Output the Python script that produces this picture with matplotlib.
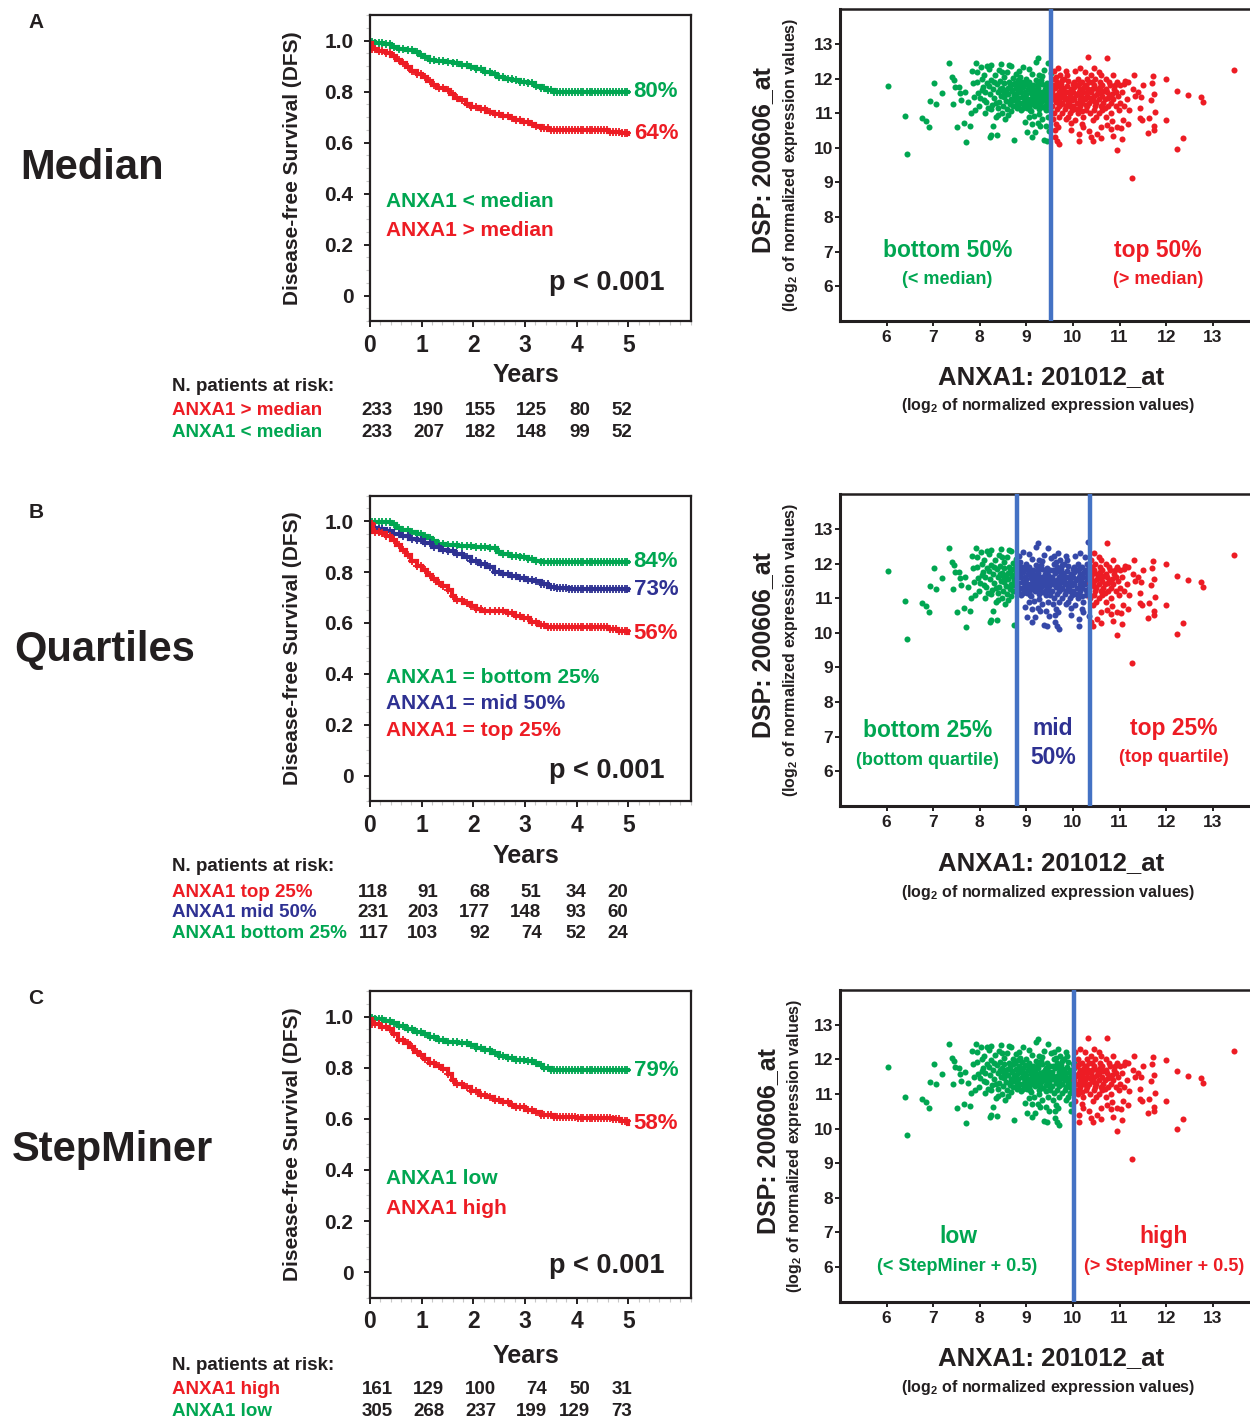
import numpy as np
import matplotlib.pyplot as plt
from matplotlib.ticker import MultipleLocator
from matplotlib.transforms import blended_transform_factory

plt.rcParams['font.family'] = ['Liberation Sans', 'DejaVu Sans']
plt.rcParams['font.weight'] = 'bold'
plt.rcParams['mathtext.fontset'] = 'custom'
plt.rcParams['mathtext.bf'] = 'Liberation Sans:bold'
plt.rcParams['mathtext.rm'] = 'Liberation Sans:bold'

GREEN = '#00a651'
RED = '#ed1c24'
BLUE = '#2e3192'
DOT_BLUE = '#3548a8'
LINE_BLUE = '#4472c4'
DARK = '#231f20'

W, H = 1250, 1420

# ---- Kaplan-Meier curves (years, DFS) ----
a_low_t = [0, 0.1, 0.25, 0.4, 0.55, 0.7, 0.85, 0.95, 1.05, 1.15, 1.25, 1.45, 1.6, 1.75, 1.9,
           2.05, 2.2, 2.35, 2.45, 2.6, 2.75, 2.9, 3.05, 3.2, 3.3, 3.4, 3.55, 5.0]
a_low_s = [0.995, 0.99, 0.985, 0.975, 0.968, 0.962, 0.955, 0.945, 0.935, 0.925, 0.918, 0.915,
           0.91, 0.905, 0.895, 0.888, 0.878, 0.868, 0.857, 0.85, 0.845, 0.838, 0.832, 0.822,
           0.812, 0.805, 0.80, 0.80]
a_high_t = [0, 0.03, 0.15, 0.3, 0.4, 0.5, 0.6, 0.7, 0.8, 0.9, 1.0, 1.1, 1.2, 1.3, 1.45, 1.55,
            1.62, 1.72, 1.85, 1.95, 2.1, 2.25, 2.4, 2.55, 2.7, 2.8, 2.95, 3.1, 3.2, 3.3, 3.45,
            4.0, 4.6, 4.85, 5.0]
a_high_s = [0.99, 0.965, 0.958, 0.95, 0.94, 0.925, 0.91, 0.895, 0.882, 0.868, 0.855, 0.84,
            0.826, 0.815, 0.805, 0.79, 0.775, 0.765, 0.75, 0.74, 0.73, 0.72, 0.71, 0.703, 0.695,
            0.688, 0.68, 0.672, 0.663, 0.656, 0.65, 0.648, 0.643, 0.638, 0.635]

b_bottom_t = [0, 0.4, 0.5, 0.6, 0.75, 0.9, 1.0, 1.1, 1.2, 1.3, 1.45, 1.7, 2.0, 2.3, 2.45, 2.55,
              2.7, 2.9, 3.05, 3.2, 3.3, 5.0]
b_bottom_s = [0.997, 0.99, 0.975, 0.965, 0.958, 0.948, 0.94, 0.932, 0.922, 0.912, 0.906, 0.903,
              0.90, 0.895, 0.88, 0.872, 0.864, 0.858, 0.85, 0.843, 0.84, 0.84]
b_mid_t = [0, 0.15, 0.3, 0.45, 0.6, 0.75, 0.9, 1.05, 1.2, 1.35, 1.5, 1.65, 1.8, 1.95, 2.1,
           2.25, 2.4, 2.55, 2.7, 2.85, 3.0, 3.15, 3.3, 3.45, 3.6, 3.85, 5.0]
b_mid_s = [0.975, 0.97, 0.96, 0.95, 0.94, 0.93, 0.924, 0.915, 0.90, 0.888, 0.882, 0.872,
           0.858, 0.845, 0.832, 0.818, 0.80, 0.792, 0.785, 0.776, 0.77, 0.765, 0.752, 0.742,
           0.737, 0.734, 0.731]
b_top_t = [0, 0.05, 0.2, 0.3, 0.4, 0.5, 0.6, 0.7, 0.8, 0.9, 1.0, 1.1, 1.2, 1.3, 1.4, 1.5,
           1.58, 1.65, 1.8, 1.95, 2.05, 2.15, 2.65, 2.8, 2.95, 3.1, 3.25, 3.4, 4.6, 4.8, 5.0]
b_top_s = [0.99, 0.958, 0.952, 0.94, 0.925, 0.905, 0.885, 0.865, 0.845, 0.825, 0.808, 0.79,
           0.772, 0.757, 0.745, 0.73, 0.705, 0.69, 0.68, 0.667, 0.655, 0.645, 0.64, 0.628,
           0.618, 0.603, 0.59, 0.582, 0.578, 0.569, 0.56]

c_low_t = [0, 0.1, 0.25, 0.4, 0.55, 0.7, 0.85, 1.0, 1.15, 1.3, 1.45, 1.7, 1.9, 2.05, 2.2,
           2.35, 2.5, 2.65, 2.8, 3.0, 3.15, 3.25, 3.35, 3.5, 5.0]
c_low_s = [0.995, 0.99, 0.983, 0.975, 0.965, 0.952, 0.94, 0.93, 0.92, 0.91, 0.902, 0.898,
           0.888, 0.878, 0.868, 0.858, 0.846, 0.838, 0.83, 0.826, 0.82, 0.81, 0.80, 0.792, 0.79]
c_high_t = [0, 0.03, 0.2, 0.35, 0.45, 0.55, 0.65, 0.75, 0.85, 0.95, 1.05, 1.15, 1.25, 1.4,
            1.5, 1.58, 1.65, 1.8, 1.95, 2.1, 2.25, 2.4, 2.55, 2.7, 2.8, 3.0, 3.15, 3.3, 3.55,
            4.0, 4.7, 4.85, 5.0]
c_high_s = [0.99, 0.97, 0.96, 0.95, 0.93, 0.91, 0.895, 0.88, 0.863, 0.85, 0.835, 0.82, 0.805,
            0.795, 0.775, 0.75, 0.735, 0.725, 0.71, 0.695, 0.685, 0.675, 0.667, 0.655, 0.645,
            0.635, 0.625, 0.615, 0.607, 0.602, 0.598, 0.59, 0.581]

censor_t = [0.04, 0.1, 0.17, 0.24, 0.31, 0.39, 0.47, 0.56, 0.64, 0.73, 0.82, 0.9, 0.98, 1.07,
            1.16, 1.24, 1.33, 1.42, 1.51, 1.6, 1.69, 1.78, 1.87, 1.96, 2.05, 2.14, 2.23, 2.32,
            2.41, 2.5, 2.58, 2.66, 2.74, 2.82, 2.9, 2.98, 3.06, 3.14, 3.22, 3.3, 3.37, 3.44,
            3.5, 3.56, 3.62, 3.68, 3.73, 3.79, 3.85, 3.9, 3.96, 4.02, 4.08, 4.13, 4.19, 4.25,
            4.3, 4.36, 4.42, 4.47, 4.53, 4.59, 4.64, 4.7, 4.76, 4.81, 4.87, 4.93, 4.98]

# ---- numbers at risk (years 0..5) ----
risk_a_high = [233, 190, 155, 125, 80, 52]
risk_a_low = [233, 207, 182, 148, 99, 52]
risk_b_top = [118, 91, 68, 51, 34, 20]
risk_b_mid = [231, 203, 177, 148, 93, 60]
risk_b_bottom = [117, 103, 92, 74, 52, 24]
risk_c_high = [161, 129, 100, 74, 50, 31]
risk_c_low = [305, 268, 237, 199, 129, 73]

# ---- ANXA1 vs DSP expression, one point per patient (log2) ----
expr_pairs = [
    # sparse low end
    (6.04, 11.78), (6.40, 10.91), (6.43, 9.81), (6.76, 10.86), (6.85, 10.78), (6.92, 10.60),
    (6.94, 11.35), (7.02, 11.86), (7.07, 11.28), (7.19, 11.57), (7.33, 12.44), (7.40, 12.05),
    (7.44, 11.96), (7.42, 11.28), (7.47, 11.77), (7.50, 10.59), (7.55, 11.75), (7.58, 11.57),
    (7.60, 11.38), (7.67, 10.72), (7.70, 10.16), (7.69, 11.62), (7.74, 11.32), (7.79, 10.64),
    (7.81, 11.02), (7.83, 12.23), (7.85, 11.86), (7.88, 11.48), (7.92, 12.44), (7.95, 11.91),
    (7.97, 11.57), (7.99, 11.20), (7.90, 11.10), (7.94, 12.20),
    # 8.0 - 8.5
    (8.02, 12.34), (8.04, 11.66), (8.07, 11.76), (8.08, 11.38), (8.10, 12.10), (8.12, 11.02),
    (8.14, 11.33), (8.15, 11.86), (8.17, 11.14), (8.19, 12.28), (8.21, 10.32), (8.22, 11.55),
    (8.24, 11.97), (8.25, 10.38), (8.25, 12.39), (8.27, 11.25), (8.28, 10.63), (8.29, 11.70),
    (8.31, 11.44), (8.33, 12.11), (8.35, 10.89), (8.36, 10.36), (8.37, 11.83), (8.38, 11.14),
    (8.39, 11.60), (8.41, 12.25), (8.42, 11.31), (8.44, 11.92), (8.45, 11.50), (8.46, 12.41),
    (8.47, 11.01), (8.48, 11.74), (8.49, 11.22), (8.50, 11.63), (8.00, 11.45), (8.05, 12.00),
    (8.11, 11.60), (8.16, 12.36), (8.20, 11.78), (8.23, 11.12), (8.30, 11.90), (8.34, 11.30),
    (8.40, 10.95), (8.43, 11.70), (8.47, 12.18),
    # 8.5 - 9.0
    (8.51, 11.47), (8.52, 11.86), (8.53, 12.05), (8.55, 10.83), (8.56, 11.35), (8.57, 11.68),
    (8.58, 12.19), (8.59, 11.12), (8.60, 10.94), (8.61, 11.55), (8.62, 11.90), (8.63, 12.39),
    (8.64, 11.27), (8.65, 11.78), (8.66, 11.42), (8.67, 12.36), (8.68, 11.06), (8.69, 11.63),
    (8.70, 11.67), (8.71, 12.02), (8.72, 11.20), (8.73, 11.52), (8.74, 10.24), (8.75, 11.88),
    (8.76, 11.38), (8.77, 11.73), (8.78, 12.14), (8.79, 11.15), (8.80, 11.58), (8.81, 11.18),
    (8.82, 11.97), (8.83, 11.44), (8.84, 11.80), (8.85, 12.22), (8.86, 11.30), (8.87, 12.05),
    (8.88, 11.62), (8.89, 11.09), (8.90, 11.91), (8.91, 11.48), (8.92, 12.34), (8.93, 11.75),
    (8.94, 11.22), (8.95, 11.47), (8.96, 10.75), (8.97, 11.84), (8.98, 11.37), (8.99, 12.00),
    (8.95, 11.32), (8.99, 11.45), (8.54, 11.58), (8.60, 11.72), (8.68, 11.34), (8.72, 11.85),
    (8.80, 11.30), (8.86, 11.70), (8.92, 11.15), (8.97, 11.60),
    # 9.0 - median
    (9.00, 11.55), (9.01, 11.14), (9.02, 10.46), (9.03, 11.69), (9.04, 11.30), (9.05, 12.28),
    (9.06, 11.90), (9.07, 11.42), (9.08, 11.76), (9.09, 11.05), (9.10, 11.58), (9.11, 10.32),
    (9.12, 12.13), (9.13, 10.70), (9.13, 11.35), (9.14, 11.82), (9.15, 11.48), (9.16, 10.92),
    (9.17, 11.38), (9.18, 11.65), (9.19, 11.22), (9.20, 12.49), (9.21, 11.96), (9.22, 11.52),
    (9.23, 11.29), (9.24, 12.58), (9.25, 11.74), (9.26, 11.12), (9.27, 10.99), (9.28, 11.44),
    (9.29, 11.86), (9.30, 11.60), (9.31, 11.96), (9.32, 11.33), (9.33, 12.06), (9.34, 10.82),
    (9.35, 11.50), (9.36, 11.18), (9.37, 10.22), (9.38, 12.25), (9.39, 11.70), (9.40, 11.40),
    (9.41, 10.62), (9.42, 11.57), (9.43, 11.08), (9.44, 11.88), (9.45, 11.27), (9.46, 12.44),
    (9.47, 11.66), (9.48, 10.50), (9.49, 11.46), (9.50, 11.80), (9.51, 11.20), (9.52, 12.17),
    (9.44, 10.20), (9.30, 10.62), (9.18, 10.45), (9.05, 10.88), (9.24, 10.72), (9.46, 10.90),
    (9.02, 11.36), (9.08, 11.25), (9.12, 11.44), (9.16, 11.31), (9.20, 11.42), (9.25, 11.36),
    (9.29, 11.24), (9.33, 11.47), (9.37, 11.39), (9.41, 11.25), (9.45, 11.52), (9.49, 11.34),
    (9.10, 11.62), (9.19, 11.55), (9.27, 11.55), (9.36, 11.62), (9.43, 11.75), (9.51, 11.58),
    (9.03, 11.82), (9.07, 11.10), (9.15, 11.70), (9.22, 11.80), (9.28, 12.10), (9.34, 11.85),
    (9.39, 11.52), (9.47, 11.40), (9.50, 11.10),
    # median - 10.0
    (9.55, 11.62), (9.56, 11.22), (9.57, 11.80), (9.58, 11.42), (9.58, 10.82), (9.59, 12.00),
    (9.60, 12.21), (9.60, 11.02), (9.61, 10.52), (9.62, 11.74), (9.62, 10.30), (9.63, 11.32),
    (9.64, 10.68), (9.65, 11.89), (9.65, 11.12), (9.66, 11.52), (9.66, 10.20), (9.67, 11.38),
    (9.68, 12.30), (9.68, 10.60), (9.69, 11.62), (9.70, 11.22), (9.70, 10.90), (9.71, 10.10),
    (9.72, 12.10), (9.73, 11.44), (9.74, 11.70), (9.75, 11.83), (9.76, 11.02), (9.77, 11.30),
    (9.78, 11.72), (9.79, 11.55), (9.80, 12.00), (9.80, 11.50), (9.82, 11.12), (9.83, 11.40),
    (9.84, 11.20), (9.85, 11.61), (9.85, 10.82), (9.86, 12.22), (9.87, 11.78), (9.88, 11.40),
    (9.89, 11.30), (9.90, 11.92), (9.90, 10.90), (9.92, 11.32), (9.93, 11.50), (9.94, 11.02),
    (9.95, 10.72), (9.95, 10.51), (9.96, 11.70), (9.97, 11.45), (9.98, 11.10), (9.99, 11.85),
    (9.57, 11.52), (9.61, 11.42), (9.64, 12.05), (9.67, 11.78), (9.70, 11.50), (9.74, 11.28),
    (9.77, 11.95), (9.81, 11.65), (9.84, 11.45), (9.88, 12.10), (9.91, 11.62), (9.94, 11.20),
    (9.98, 11.38),
    # 10.0 - 10.5
    (10.00, 11.60), (10.01, 11.22), (10.02, 11.90), (10.03, 11.41), (10.05, 12.22), (10.05, 10.80),
    (10.06, 11.52), (10.08, 11.80), (10.08, 11.30), (10.10, 12.00), (10.10, 11.00), (10.12, 11.60),
    (10.12, 11.10), (10.13, 10.40), (10.13, 10.20), (10.14, 11.40), (10.15, 12.30), (10.15, 11.70),
    (10.16, 11.20), (10.18, 11.50), (10.20, 11.90), (10.20, 11.30), (10.20, 10.70), (10.21, 10.60),
    (10.22, 11.60), (10.22, 10.90), (10.24, 11.45), (10.25, 12.20), (10.26, 11.40), (10.27, 11.80),
    (10.28, 11.10), (10.30, 12.00), (10.30, 11.50), (10.30, 11.20), (10.33, 11.70), (10.33, 12.61),
    (10.35, 11.30), (10.35, 10.50), (10.36, 11.00), (10.38, 12.10), (10.38, 11.60), (10.38, 10.30),
    (10.40, 11.90), (10.40, 11.40), (10.42, 10.80), (10.42, 10.20), (10.44, 11.10), (10.45, 12.30),
    (10.45, 11.80), (10.45, 11.50), (10.47, 11.20), (10.48, 12.00), (10.02, 11.75), (10.06, 11.12),
    (10.09, 11.55), (10.13, 11.85), (10.17, 11.35), (10.19, 11.05), (10.23, 11.75), (10.27, 11.25),
    (10.31, 11.62), (10.34, 11.90), (10.37, 11.45), (10.41, 11.70), (10.46, 11.35),
    # 10.5 - 11.0
    (10.50, 11.30), (10.50, 10.90), (10.52, 11.70), (10.52, 10.40), (10.55, 12.20), (10.55, 11.40),
    (10.55, 11.00), (10.56, 11.60), (10.58, 11.90), (10.60, 12.10), (10.60, 11.20), (10.60, 10.60),
    (10.60, 10.28), (10.62, 11.80), (10.62, 11.50), (10.63, 11.10), (10.65, 11.30), (10.68, 11.40),
    (10.70, 12.00), (10.70, 11.70), (10.70, 10.90), (10.73, 10.67), (10.74, 12.60), (10.74, 11.60),
    (10.75, 11.20), (10.78, 11.90), (10.78, 11.50), (10.80, 11.80), (10.81, 10.55), (10.82, 11.30),
    (10.82, 11.00), (10.83, 10.77), (10.85, 12.10), (10.85, 11.40), (10.86, 10.33), (10.87, 11.70),
    (10.92, 11.60), (10.92, 11.20), (10.94, 9.93), (10.95, 11.90), (10.95, 10.60), (10.97, 11.50),
    (10.51, 11.55), (10.57, 11.75), (10.64, 11.65), (10.69, 11.15), (10.76, 11.45), (10.84, 11.55),
    (10.90, 11.80), (10.99, 11.10),
    # high end
    (11.00, 11.80), (11.00, 11.30), (11.03, 10.57), (11.05, 11.60), (11.06, 10.26), (11.08, 10.80),
    (11.09, 11.84), (11.10, 11.20), (11.12, 11.93), (11.15, 11.40), (11.18, 11.90), (11.19, 10.68),
    (11.21, 11.09), (11.26, 9.12), (11.29, 11.69), (11.30, 12.10), (11.32, 11.49), (11.40, 11.60),
    (11.43, 11.14), (11.43, 10.86), (11.46, 11.48), (11.49, 10.79), (11.50, 11.80), (11.60, 10.44),
    (11.64, 10.85), (11.68, 11.38), (11.69, 11.86), (11.72, 12.06), (11.73, 11.54), (11.73, 10.62),
    (11.74, 10.51), (11.77, 11.04), (11.99, 10.79), (12.00, 11.99), (12.23, 9.98), (12.24, 11.65),
    (12.36, 10.28), (12.46, 11.53), (12.74, 11.47), (12.79, 11.32), (13.46, 12.25),
]
anxa1 = np.array([p[0] for p in expr_pairs])
dsp = np.array([p[1] for p in expr_pairs])

median_cut = 9.53
quartile_cuts = [8.79, 10.36]
stepminer_cut = 10.03


fig = plt.figure(figsize=(W / 100, H / 100), dpi=100)


def add_ax(left, top, right, bottom):
    return fig.add_axes([left / W, 1 - bottom / H, (right - left) / W, (bottom - top) / H])


def ftext(x, y, s, **kw):
    kw.setdefault('ha', 'center')
    kw.setdefault('va', 'center')
    kw.setdefault('color', DARK)
    return fig.text(x / W, 1 - y / H, s, **kw)


def step_at(t, s, x):
    idx = np.searchsorted(np.asarray(t), np.asarray(x), side='right') - 1
    return np.asarray(s)[idx]


def km_panel(top, bottom, curves, legend, p_y, risk_rows, risk_cols, risk_y, years_y):
    ax = add_ax(370, top, 690.5, bottom)
    for t, s, col, pct in curves:
        ax.plot(t, s, drawstyle='steps-post', color=col, lw=3.0, solid_joinstyle='miter')
        ax.plot(censor_t, step_at(t, s, censor_t), '+', color=col, ms=5.5, mew=1.3)
        ax.text(5.1, s[-1], pct, color=col, fontsize=16, ha='left', va='center')
    for txt, col, y in legend:
        ax.text(0.3, y, txt, color=col, fontsize=15, ha='left', va='center')
    ax.text(5.7, p_y, 'p < 0.001', color=DARK, fontsize=19.5, ha='right', va='center')

    ax.set_xlim(0, 6.2)
    ax.set_ylim(-0.1, 1.1)
    ax.set_xticks(range(6))
    ax.set_yticks([0, 0.2, 0.4, 0.6, 0.8, 1.0])
    ax.set_yticklabels(['0', '0.2', '0.4', '0.6', '0.8', '1.0'])
    ax.xaxis.set_minor_locator(MultipleLocator(0.2))
    ax.yaxis.set_minor_locator(MultipleLocator(0.05))
    ax.tick_params(which='major', direction='out', length=4, width=1.4, colors=DARK)
    ax.tick_params(axis='x', which='major', pad=5, labelsize=16.5)
    ax.tick_params(axis='y', which='major', pad=8, labelsize=15)
    ax.tick_params(which='minor', direction='out', length=3, width=0.8, color='#c8c8c8')
    for sp in ax.spines.values():
        sp.set_linewidth(1.6)
        sp.set_color(DARK)

    mid = (top + bottom) / 2
    ftext(293, mid, 'Disease-free Survival (DFS)', rotation=90, fontsize=15)
    ftext(526, years_y, 'Years', fontsize=18)

    trans = blended_transform_factory(ax.transData, fig.transFigure)
    ftext(172, risk_y[0], 'N. patients at risk:', ha='left', fontsize=13.5)
    for (label, col, counts), y in zip(risk_rows, risk_y[1:]):
        ftext(172, y, label, ha='left', color=col, fontsize=13.5)
        for xc, n in zip(risk_cols, counts):
            ax.text(xc, 1 - y / H, str(n), transform=trans, ha='right', va='center',
                    fontsize=13.5, color=DARK, clip_on=False)
    return ax


def scatter_panel(top, bottom, groups, cuts, labels, xlab_y, ylab_x):
    ax = add_ax(840, top, 840 + 9 * 46.6, bottom)
    for mask, col in groups:
        ax.scatter(anxa1[mask], dsp[mask], s=19, color=col, linewidths=0, zorder=2)
    for c in cuts:
        ax.axvline(c, color=LINE_BLUE, lw=3.2, zorder=3)
    for x, y, txt, col, size in labels:
        ax.text(x, y, txt, color=col, fontsize=size, ha='center', va='center')
    ax.set_xlim(5, 14)
    ax.set_ylim(5, 14)
    ax.set_xticks(range(6, 14))
    ax.set_yticks(range(6, 14))
    ax.tick_params(direction='out', length=3.5, width=1.4, colors=DARK, labelsize=12.5)
    ax.tick_params(axis='y', pad=1.5)
    ax.tick_params(axis='x', pad=3)
    for name, sp in ax.spines.items():
        sp.set_color(DARK)
        sp.set_linewidth(2.2 if name in ('left', 'bottom') else 1.8)

    mid = (top + bottom) / 2
    ftext(ylab_x, mid - 5, 'DSP: 200606_at', rotation=90, fontsize=18)
    ftext(ylab_x + 27, mid, r'(log$_\mathbf{2}$ of normalized expression values)',
          rotation=90, fontsize=11.5)
    ftext(1051, xlab_y, 'ANXA1: 201012_at', fontsize=18.5)
    ftext(1048, xlab_y + 29, r'(log$_\mathbf{2}$ of normalized expression values)',
          fontsize=11.5)
    return ax


cols_ac = [0.44, 1.44, 2.44, 3.42, 4.26, 5.07]
cols_b = [0.36, 1.32, 2.33, 3.32, 4.18, 4.99]

# ---------- A: median ----------
ftext(36, 23, 'A', fontsize=15)
ftext(92, 168, 'Median', fontsize=30)
km_panel(15, 321,
         [(a_low_t, a_low_s, GREEN, '80%'), (a_high_t, a_high_s, RED, '64%')],
         [('ANXA1 < median', GREEN, 0.368), ('ANXA1 > median', RED, 0.255)],
         0.05,
         [('ANXA1 > median', RED, risk_a_high), ('ANXA1 < median', GREEN, risk_a_low)],
         cols_ac, [386, 410, 433], 375)
scatter_panel(9.3, 321,
              [(anxa1 < median_cut, GREEN), (anxa1 >= median_cut, RED)],
              [median_cut],
              [(7.31, 7.03, 'bottom 50%', GREEN, 16.5), (7.31, 6.19, '(< median)', GREEN, 13),
               (11.82, 7.03, 'top 50%', RED, 16.5), (11.82, 6.19, '(> median)', RED, 13)],
              376.7, 763)

# ---------- B: quartiles ----------
ftext(36, 512, 'B', fontsize=15)
ftext(105, 650, 'Quartiles', fontsize=30)
km_panel(495.7, 801,
         [(b_bottom_t, b_bottom_s, GREEN, '84%'), (b_mid_t, b_mid_s, BLUE, '73%'),
          (b_top_t, b_top_s, RED, '56%')],
         [('ANXA1 = bottom 25%', GREEN, 0.387), ('ANXA1 = mid 50%', BLUE, 0.283),
          ('ANXA1 = top 25%', RED, 0.177)],
         0.017,
         [('ANXA1 top 25%', RED, risk_b_top), ('ANXA1 mid 50%', BLUE, risk_b_mid),
          ('ANXA1 bottom 25%', GREEN, risk_b_bottom)],
         cols_b, [866.7, 892, 912.7, 933.3], 856)
scatter_panel(494.3, 806,
              [(anxa1 < quartile_cuts[0], GREEN),
               ((anxa1 >= quartile_cuts[0]) & (anxa1 < quartile_cuts[1]), DOT_BLUE),
               (anxa1 >= quartile_cuts[1], RED)],
              quartile_cuts,
              [(6.88, 7.18, 'bottom 25%', GREEN, 16.5),
               (6.88, 6.31, '(bottom quartile)', GREEN, 13),
               (9.57, 7.23, 'mid', BLUE, 16.5), (9.57, 6.41, '50%', BLUE, 16.5),
               (12.16, 7.23, 'top 25%', RED, 16.5), (12.16, 6.41, '(top quartile)', RED, 13)],
              863.3, 763.5)

# ---------- C: StepMiner ----------
ftext(36, 998, 'C', fontsize=15)
ftext(112, 1150, 'StepMiner', fontsize=30)
km_panel(991, 1297.7,
         [(c_low_t, c_low_s, GREEN, '79%'), (c_high_t, c_high_s, RED, '58%')],
         [('ANXA1 low', GREEN, 0.365), ('ANXA1 high', RED, 0.248)],
         0.023,
         [('ANXA1 high', RED, risk_c_high), ('ANXA1 low', GREEN, risk_c_low)],
         cols_ac, [1365, 1390, 1412], 1356)
scatter_panel(990, 1301.7,
              [(anxa1 < stepminer_cut, GREEN), (anxa1 >= stepminer_cut, RED)],
              [stepminer_cut],
              [(7.54, 6.88, 'low', GREEN, 16.5), (7.52, 6.01, '(< StepMiner + 0.5)', GREEN, 13),
               (11.95, 6.88, 'high', RED, 16.5), (11.95, 6.01, '(> StepMiner + 0.5)', RED, 13)],
              1358.3, 768)

fig.savefig('out.png', dpi=100)
